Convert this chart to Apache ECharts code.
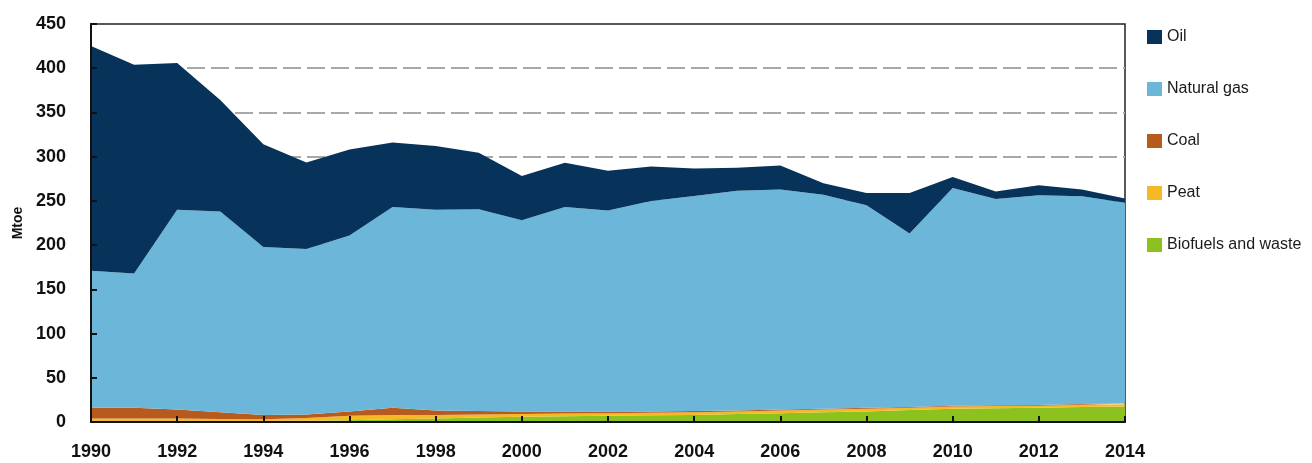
<!DOCTYPE html>
<html>
<head>
<meta charset="utf-8">
<script src="https://cdn.jsdelivr.net/npm/echarts@6/dist/echarts.min.js"></script>
<style>
  html, body { margin: 0; padding: 0; background: #fff; }
  #chart { width: 1312px; height: 463px; }
</style>
</head>
<body>
<div id="chart"></div>
<script>
const years = ['1990','1991','1992','1993','1994','1995','1996','1997','1998','1999','2000','2001','2002','2003','2004','2005','2006','2007','2008','2009','2010','2011','2012','2013','2014'];
const biofuels = [1, 1, 1, 1, 1, 1.5, 2, 3, 4, 5, 6, 6.5, 7, 7.5, 8, 9, 10, 11, 12, 13.5, 15, 15.5, 16, 17, 17.5];
const peat = [3, 3, 3, 2.5, 2, 3, 5, 5, 4, 3.5, 3, 3, 3, 3, 3, 3, 3, 3, 3, 2.5, 2.5, 2.5, 2.5, 2.5, 2.5];
const coal = [12, 12, 10, 7.5, 5, 4, 5, 8, 5, 4, 3, 2.5, 2, 1.5, 1.5, 1, 1, 1, 1, 1, 1, 1, 0.8, 0.8, 0.8];
const naturalGas = [155, 152, 226, 227, 190, 187, 199, 227, 227, 228, 216, 231, 227, 238, 243, 248.5, 249, 242, 229, 196, 246, 233, 237, 235, 227];
const oil = [254, 236, 166, 126, 116, 98, 97, 73, 72, 64, 50, 50, 45, 39, 31, 26, 27, 13, 14, 46, 12.5, 8.6, 11.3, 7.5, 5];
const yTicks = [0, 50, 100, 150, 200, 250, 300, 350, 400, 450];

const FONT = '"Liberation Sans", Arial, sans-serif';
const colors = {
  'Oil': '#07335a',
  'Natural gas': '#6cb7d9',
  'Coal': '#b65a1d',
  'Peat': '#f5b926',
  'Biofuels and waste': '#8cc21f'
};

function areaSeries(name, data) {
  return {
    name: name,
    type: 'line',
    stack: 'total',
    data: data,
    yAxisIndex: 0,
    symbol: 'none',
    showSymbol: false,
    smooth: false,
    z: 2,
    lineStyle: { width: 0, color: colors[name] },
    itemStyle: { color: colors[name] },
    areaStyle: { color: colors[name], opacity: 1 },
    emphasis: { disabled: true }
  };
}

const gridColors = yTicks.map(function (v) { return v === 450 ? 'rgba(0,0,0,0)' : '#a8a8a8'; });

const chart = echarts.init(document.getElementById('chart'), null, { renderer: 'canvas' });
chart.setOption({
  animation: false,
  backgroundColor: '#fff',
  grid: {
    left: 91, right: 187, top: 24, bottom: 41,
    outerBoundsMode: 'none',
    containLabel: false,
    show: true, borderColor: '#222', borderWidth: 1.5, backgroundColor: 'transparent'
  },
  legend: {
    orient: 'vertical',
    left: 1147, top: 29,
    padding: 0,
    itemWidth: 15, itemHeight: 14, itemGap: 36,
    icon: 'rect',
    data: ['Oil', 'Natural gas', 'Coal', 'Peat', 'Biofuels and waste'],
    textStyle: { fontFamily: FONT, fontSize: 16, color: '#1a1a1a' },
    selectedMode: false
  },
  xAxis: {
    type: 'category',
    data: years,
    boundaryGap: false,
    z: 10,
    axisLine: { show: true, lineStyle: { color: '#111', width: 2 } },
    axisTick: { show: true, inside: true, length: 6, interval: 1, lineStyle: { color: '#111', width: 2 } },
    axisLabel: { interval: 1, margin: 21, fontFamily: FONT, fontWeight: 'bold', fontSize: 18, color: '#111' },
    splitLine: { show: false }
  },
  yAxis: [
    {
      type: 'value',
      min: 0, max: 450, interval: 50,
      position: 'left',
      z: 10,
      name: 'Mtoe',
      nameLocation: 'middle',
      nameGap: 66,
      nameRotate: 90,
      nameTextStyle: { fontFamily: FONT, fontWeight: 'bold', fontSize: 14, color: '#111' },
      axisLine: { show: true, lineStyle: { color: '#111', width: 2 } },
      axisTick: { show: true, inside: true, length: 6, lineStyle: { color: '#111', width: 2 } },
      axisLabel: {
        margin: 25, fontFamily: FONT, fontWeight: 'bold', fontSize: 18, color: '#111',
        formatter: function (v) { return yTicks.indexOf(v) >= 0 ? String(v) : ''; }
      },
      splitLine: { show: false }
    },
    {
      type: 'value',
      min: 0, max: 450, interval: 50,
      position: 'left',
      z: 0,
      axisLine: { show: false },
      axisTick: { show: false },
      axisLabel: { show: false },
      splitLine: { show: true, lineStyle: { color: gridColors, width: 2, type: [18, 6] } }
    }
  ],
  series: [
    areaSeries('Biofuels and waste', biofuels),
    areaSeries('Peat', peat),
    areaSeries('Coal', coal),
    areaSeries('Natural gas', naturalGas),
    areaSeries('Oil', oil)
  ]
});
</script>
</body>
</html>
